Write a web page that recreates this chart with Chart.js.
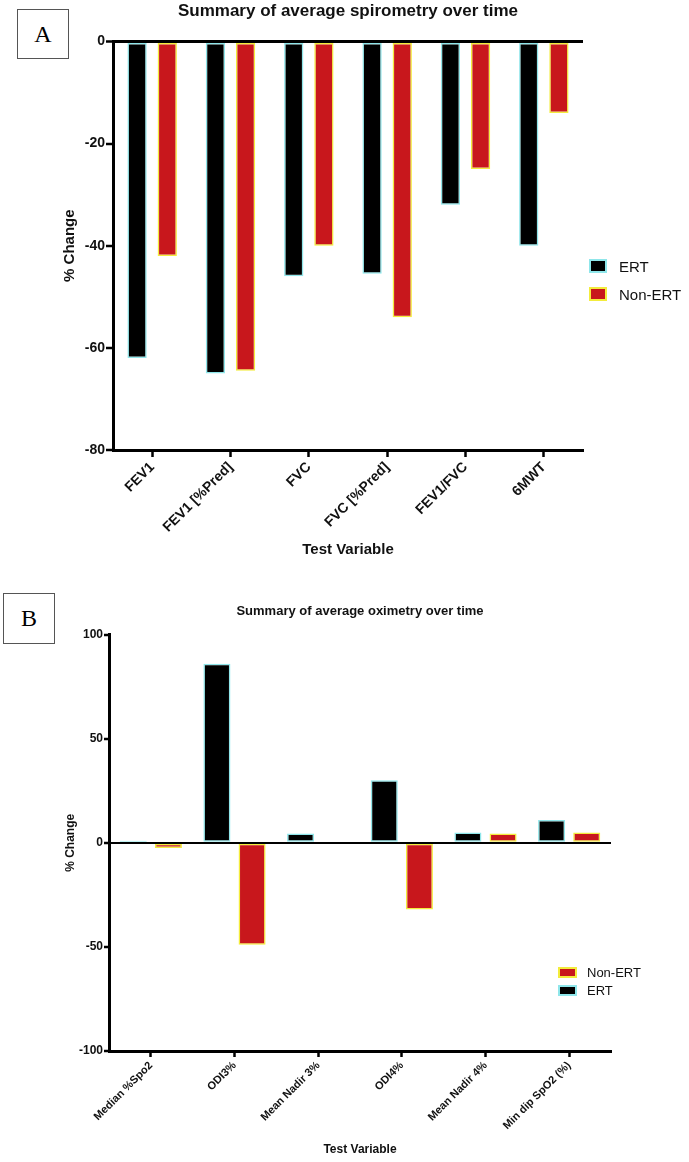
<!DOCTYPE html>
<html>
<head>
<meta charset="utf-8">
<script src="https://cdn.jsdelivr.net/npm/chart.js@4.4.1/dist/chart.umd.min.js"></script>
<style>
  html, body { margin: 0; padding: 0; background: #fff; }
  body { width: 689px; height: 1162px; position: relative; overflow: hidden; font-family: "Liberation Sans", Arial, sans-serif; }
  canvas { position: absolute; left: 0; }
  .panel { position: absolute; border: 1px solid #555; font-family: "Liberation Serif", "Times New Roman", serif; font-size: 24px; display: flex; align-items: center; justify-content: center; box-sizing: border-box; color: #000; }
  .lg { position: absolute; display: flex; align-items: center; color: #111; }
  .sw { box-sizing: border-box; display: inline-block; }
</style>
</head>
<body>
<div class="panel" style="left:17px;top:9px;width:52px;height:50px;">A</div>
<div class="panel" style="left:3px;top:593px;width:52px;height:51px;">B</div>
<canvas id="chartA" width="689" height="570" style="top:0px;"></canvas>
<canvas id="chartB" width="689" height="582" style="top:580px;"></canvas>

<div class="lg" style="left:589px;top:257px;height:18px;font-size:15px;">
  <span class="sw" style="width:18px;height:14px;background:#000;border:2px solid #8fe6ea;"></span>
  <span style="margin-left:12px;">ERT</span>
</div>
<div class="lg" style="left:589px;top:285px;height:18px;font-size:15px;">
  <span class="sw" style="width:18px;height:14px;background:#c8171c;border:2px solid #f3ec3c;"></span>
  <span style="margin-left:12px;">Non-ERT</span>
</div>
<div class="lg" style="left:558px;top:964px;height:16px;font-size:13px;">
  <span class="sw" style="width:19px;height:11px;background:#c8171c;border:2px solid #f3ec3c;"></span>
  <span style="margin-left:10px;">Non-ERT</span>
</div>
<div class="lg" style="left:558px;top:982px;height:16px;font-size:13px;">
  <span class="sw" style="width:19px;height:11px;background:#000;border:2px solid #8fe6ea;"></span>
  <span style="margin-left:10px;">ERT</span>
</div>

<script>
// ---- Data ----
const categoriesA = ['FEV1', 'FEV1 [%Pred]', 'FVC', 'FVC [%Pred]', 'FEV1/FVC', '6MWT'];
const ertA = [-62, -65, -46, -45.5, -32, -40];
const nonErtA = [-42, -64.5, -40, -54, -25, -14];
const yTicksA = [0, -20, -40, -60, -80];

const categoriesB = ['Median %Spo2', 'ODI3%', 'Mean Nadir 3%', 'ODI4%', 'Mean Nadir 4%', 'Min dip SpO2 (%)'];
const ertB = [1, 86, 4.5, 30, 5, 11];
const nonErtB = [-2.5, -49, 0.5, -32, 4.5, 5];
const yTicksB = [100, 50, 0, -50, -100];

const seriesNames = ['ERT', 'Non-ERT'];

// ---- Styles ----
const FONT = '"Liberation Sans", Arial, sans-serif';
const ERT_FILL = '#000000', ERT_BORDER = '#8fe6ea';
const NON_FILL = '#c8171c', NON_BORDER = '#f3ec3c';

function makeChart(id, cfg) {
  const ticksList = cfg.yTicks;
  return new Chart(document.getElementById(id), {
    type: 'bar',
    data: {
      labels: cfg.categories,
      datasets: [
        { label: seriesNames[0], data: cfg.ert, backgroundColor: ERT_FILL, borderColor: ERT_BORDER, borderWidth: 1.5, borderSkipped: false,
          categoryPercentage: cfg.catPct, barPercentage: cfg.barPct },
        { label: seriesNames[1], data: cfg.non, backgroundColor: NON_FILL, borderColor: NON_BORDER, borderWidth: 1.5, borderSkipped: false,
          categoryPercentage: cfg.catPct, barPercentage: cfg.barPct }
      ]
    },
    options: {
      responsive: false,
      animation: false,
      devicePixelRatio: 1,
      layout: { padding: cfg.padding },
      plugins: {
        legend: { display: false },
        tooltip: { enabled: false },
        title: {
          display: true, text: cfg.title, fullSize: false, color: '#111',
          font: { family: FONT, size: cfg.titleSize, weight: 'bold' },
          padding: cfg.titlePadding
        }
      },
      scales: {
        x: {
          grid: { display: true, drawOnChartArea: false, offset: false, drawTicks: true, z: 1,
                  tickLength: cfg.xTickLen, tickColor: '#000', tickWidth: 2.5, color: '#000' },
          border: { display: true, color: '#000', width: 3, z: 2 },
          ticks: { color: '#111', autoSkip: false, minRotation: 45, maxRotation: 45, padding: 2,
                   font: { family: FONT, size: cfg.xFont, weight: 'bold' } },
          title: { display: true, text: 'Test Variable', color: '#111',
                   font: { family: FONT, size: cfg.axisTitleSize, weight: 'bold' }, padding: { top: 4, bottom: 4 } },
          afterFit: (s) => { s.height = cfg.xHeight; }
        },
        y: {
          min: Math.min(...ticksList), max: Math.max(...ticksList),
          afterBuildTicks: (s) => { s.ticks = ticksList.slice().sort((a, b) => a - b).map(v => ({ value: v })); },
          grid: {
            display: true, drawOnChartArea: true, drawTicks: true, z: 1,
            color: (c) => (c.tick && c.tick.value === 0) ? '#000' : 'rgba(0,0,0,0)',
            lineWidth: (c) => (c.tick && c.tick.value === 0) ? cfg.zeroWidth : 0,
            tickLength: cfg.yTickLen, tickColor: '#000', tickWidth: 2.5
          },
          border: { display: true, color: '#000', width: 3, z: 2 },
          ticks: { color: '#111', padding: 1, font: { family: FONT, size: cfg.yFont, weight: 'bold' } },
          title: { display: true, text: '% Change', color: '#111',
                   font: { family: FONT, size: cfg.axisTitleSize, weight: 'bold' }, padding: { top: 4, bottom: 4 } },
          afterFit: (s) => { s.width = cfg.yWidth; }
        }
      }
    }
  });
}

makeChart('chartA', {
  categories: categoriesA, ert: ertA, non: nonErtA, yTicks: yTicksA,
  title: 'Summary of average spirometry over time', titleSize: 17, titlePadding: { top: 1, bottom: 20 },
  padding: { left: 57, right: 106, top: 0, bottom: 7 },
  yWidth: 56, xHeight: 113, xTickLen: 7, yTickLen: 7,
  xFont: 14, yFont: 14, axisTitleSize: 15, zeroWidth: 3,
  catPct: 0.77, barPct: 0.64
});

makeChart('chartB', {
  categories: categoriesB, ert: ertB, non: nonErtB, yTicks: yTicksB,
  title: 'Summary of average oximetry over time', titleSize: 13, titlePadding: { top: 24, bottom: 15 },
  padding: { left: 59, right: 78, top: 0, bottom: 1 },
  yWidth: 50, xHeight: 110, xTickLen: 6, yTickLen: 5,
  xFont: 11, yFont: 12, axisTitleSize: 12, zeroWidth: 2,
  catPct: 0.84, barPct: 0.77
});
</script>
</body>
</html>
